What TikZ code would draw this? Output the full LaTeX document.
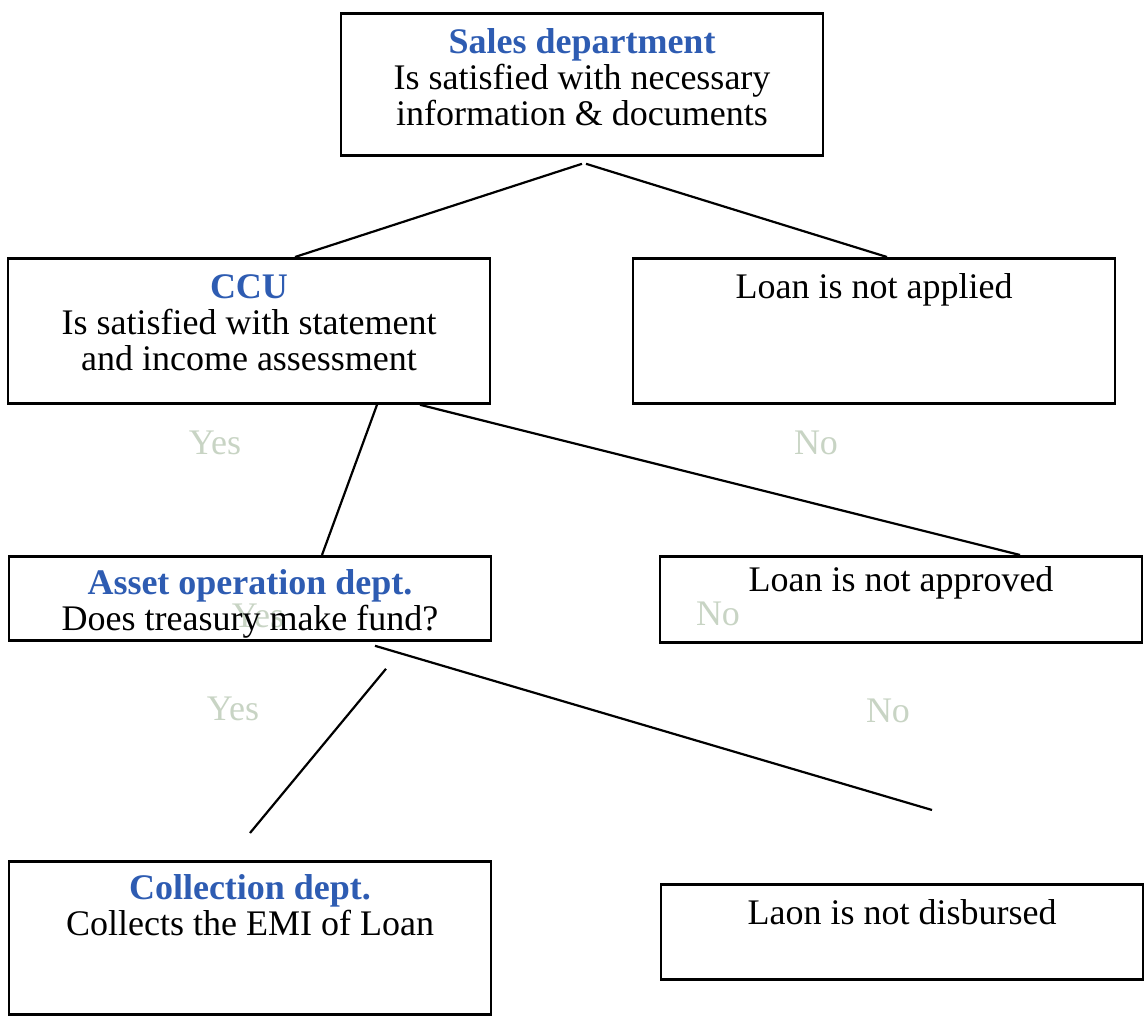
\documentclass[tikz,border=0pt]{standalone}
\usepackage{fontspec}
\setmainfont{Liberation Serif}
\usetikzlibrary{calc}
\usetikzlibrary{positioning}

\definecolor{deptblue}{RGB}{46,92,178}
\definecolor{faintgreen}{RGB}{200,212,196}

\begin{document}
\begin{tikzpicture}[x=0.5pt, y=-0.5pt,
    every node/.style={font=\fontsize{18}{18}\selectfont},
    box/.style={draw, line width=1.4pt, anchor=north, align=center,
      minimum width=241pt, inner xsep=0pt, inner ysep=0pt},
    branch/.style={text=faintgreen},
    link/.style={line width=1.1pt}]

    \useasboundingbox (0,0) rectangle (1147,1016);

    % faint yes/no branch labels, set first so the box texts lie over them
    \node (YesCCU) [branch] at (215,443) {Yes};
    \node (NoCCU) [branch] at (816,443) {No};
    \node (YesAsset) [branch] at (258,616) {Yes};
    \node (NoAsset) [branch] at (718,614) {No};
    \node (YesFund) [branch] at (233,709) {Yes};
    \node (NoFund) [branch] at (888,711) {No};

    \node (SalesDept) [box, text height=56pt, text depth=15pt] at (582,12)
      {\textbf{\textcolor{deptblue}{Sales department}}\\Is satisfied with necessary\\information \& documents};

    \node (CCU) [box, text height=56pt, text depth=16.5pt] at (249,257)
      {\textbf{\textcolor{deptblue}{CCU}}\\Is satisfied with statement\\and income assessment};
    \node (NotApplied) [box, text height=20pt, text depth=52.5pt] at (874,257)
      {Loan is not applied};

    \node (AssetOps) [box, text height=37pt, text depth=5pt] at (250,555)
      {\textbf{\textcolor{deptblue}{Asset operation dept.}}\\Does treasury make fund?};
    \node (NotApproved) [box, text height=17.5pt, text depth=25.5pt] at (901,555)
      {Loan is not approved};

    \node (Collection) [box, text height=37pt, text depth=39.5pt] at (250,860)
      {\textbf{\textcolor{deptblue}{Collection dept.}}\\Collects the EMI of Loan};
    \node (NotDisbursed) [box, text height=20pt, text depth=27.5pt] at (902,883)
      {Laon is not disbursed};

    \coordinate (NoFundEnd) at ($(NotDisbursed.north)+(30,-73)$);

    \draw[link] ($(SalesDept.south)+(0,7)$) -- ($(CCU.north)+(46,0)$);
    \draw[link] ($(SalesDept.south)+(4,7)$) -- ($(NotApplied.north)+(13,0)$);

    \draw[link] ($(CCU.south)+(128,0)$) -- ($(AssetOps.north)+(72,0)$);
    \draw[link] ($(CCU.south)+(171,0)$) -- ($(NotApproved.north)+(119,0)$);

    \draw[link] ($(AssetOps.south)+(136,27)$) -- ($(Collection.north)+(0,-27)$);
    \draw[link] ($(AssetOps.south)+(125,4)$) -- (NoFundEnd);

\end{tikzpicture}
\end{document}
